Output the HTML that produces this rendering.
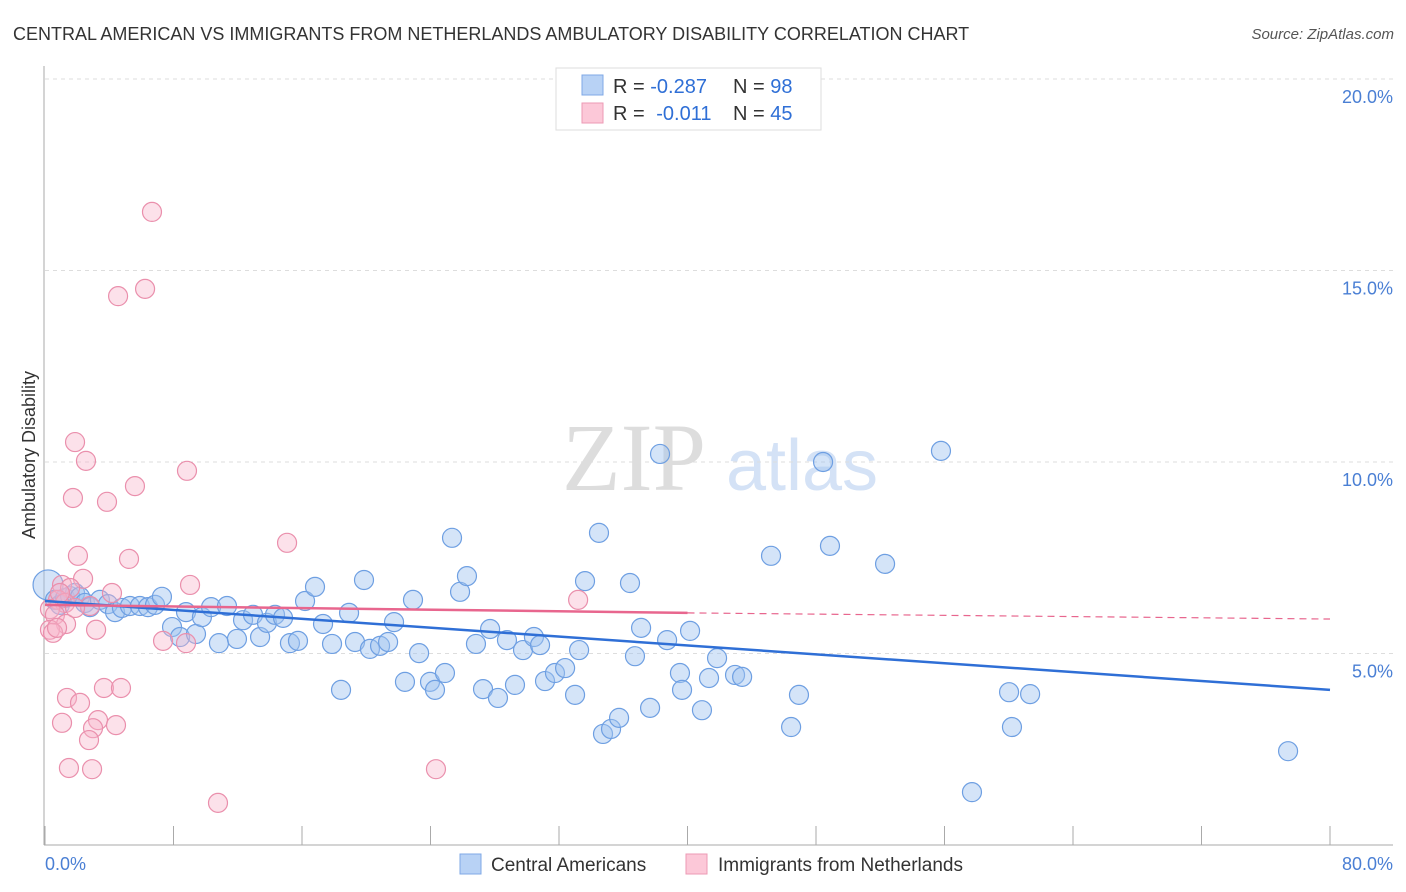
<!DOCTYPE html>
<html><head><meta charset="utf-8"><style>
body{margin:0;background:#fff;font-family:"Liberation Sans",sans-serif;}
#wrap{position:relative;width:1406px;height:892px;overflow:hidden;}
</style></head><body>
<div id="wrap">
<svg id="chart" width="1406" height="892">
<text x="13" y="40" font-size="18" fill="#333">CENTRAL AMERICAN VS IMMIGRANTS FROM NETHERLANDS AMBULATORY DISABILITY CORRELATION CHART</text>
<text x="1394" y="39" font-size="15" fill="#555" font-style="italic" text-anchor="end">Source: ZipAtlas.com</text>
<text x="634" y="490" font-size="96" fill="#ddd" font-family="Liberation Serif,serif" text-anchor="middle">ZIP</text>
<text x="802" y="490" font-size="72" fill="#d4e2f6" text-anchor="middle">atlas</text>
<g id="grid"></g>
<g id="axes"></g>
<g id="marks"></g>
<text transform="translate(35,455) rotate(-90)" font-size="18" fill="#333" text-anchor="middle">Ambulatory Disability</text>
<g>
<rect x="556" y="68" width="265" height="62" fill="#fff" stroke="#ddd"/>
<rect x="582" y="75" width="21" height="20" fill="#b8d2f5" stroke="#7fa8e6"/>
<rect x="582" y="103" width="21" height="20" fill="#fcc8d8" stroke="#ec9ab4"/>
<text x="613" y="93" font-size="20" fill="#333">R = <tspan fill="#2f6fd6">-0.287</tspan></text>
<text x="733" y="93" font-size="20" fill="#333">N = <tspan fill="#2f6fd6">98</tspan></text>
<text x="613" y="120" font-size="20" fill="#333">R = <tspan fill="#2f6fd6" dx="6">-0.011</tspan></text>
<text x="733" y="120" font-size="20" fill="#333">N = <tspan fill="#2f6fd6">45</tspan></text>
</g>
<g>
<rect x="460" y="854" width="21" height="20" fill="#b8d2f5" stroke="#7fa8e6"/>
<text x="491" y="871" font-size="19" fill="#333">Central Americans</text>
<rect x="686" y="854" width="21" height="20" fill="#fcc8d8" stroke="#ec9ab4"/>
<text x="718" y="871" font-size="19" fill="#333">Immigrants from Netherlands</text>
</g>
</svg>
</div>
<script>
const yTicks=[5,10,15,20];
const yTickLabels=["5.0%","10.0%","15.0%","20.0%"];
const xTicks=[0,8,16,24,32,40,48,56,64,72,80];
const blueX=[0.19,0.62,0.93,1.25,1.56,1.87,2.18,2.49,2.80,3.42,3.92,4.36,4.79,5.29,5.91,6.41,6.85,7.28,7.91,8.41,8.78,9.40,9.77,10.34,10.83,11.33,11.95,12.33,12.95,13.39,13.82,14.32,14.82,15.25,15.75,16.19,16.81,17.31,17.87,18.43,18.93,19.30,19.86,20.23,20.86,21.36,21.73,22.41,22.91,23.29,23.97,24.28,24.90,25.34,25.84,26.27,26.83,27.27,27.71,28.20,28.76,29.26,29.76,30.44,30.82,31.13,31.75,32.38,33.00,33.25,33.62,34.49,34.74,35.24,35.74,36.42,36.73,37.11,37.67,38.29,38.73,39.53,39.66,40.16,40.90,41.34,41.84,42.96,43.40,45.20,46.45,46.94,48.44,48.87,52.30,55.78,57.71,60.02,60.20,61.33,77.39];
const blueY=[6.79,6.40,6.27,6.45,6.50,6.58,6.48,6.32,6.21,6.40,6.29,6.08,6.19,6.24,6.24,6.21,6.27,6.48,5.69,5.43,6.08,5.51,5.95,6.21,5.27,6.24,5.38,5.87,6.01,5.43,5.80,6.01,5.93,5.27,5.33,6.37,6.74,5.77,5.25,4.05,6.06,5.30,6.92,5.12,5.20,5.30,5.82,4.26,6.40,5.01,4.26,4.05,4.49,8.02,6.61,7.02,5.25,4.07,5.64,3.84,5.35,4.18,5.09,5.43,5.22,4.28,4.49,4.62,3.92,5.09,6.89,8.15,2.90,3.03,3.32,6.84,4.93,5.67,3.58,10.21,5.35,4.49,4.05,5.59,3.52,4.36,4.88,4.44,4.39,7.55,3.08,3.92,10.00,7.81,7.34,10.29,1.38,3.99,3.08,3.94,2.45];
const pinkX=[6.66,4.55,6.23,1.87,2.55,1.74,8.84,5.60,3.86,15.07,2.05,5.23,2.37,1.06,1.56,4.17,9.03,0.81,1.25,2.80,0.31,0.62,1.31,3.18,0.31,0.50,0.75,7.35,8.78,33.19,1.37,2.18,3.67,4.73,1.06,3.30,2.99,2.74,4.42,1.49,2.93,24.34,10.77,0.93,1.87];
const pinkY=[16.53,14.33,14.52,10.52,10.03,9.06,9.77,9.37,8.96,7.89,7.55,7.47,6.95,6.79,6.71,6.58,6.79,6.40,6.32,6.24,6.16,6.01,5.77,5.62,5.62,5.54,5.67,5.33,5.27,6.40,3.84,3.71,4.10,4.10,3.19,3.26,3.05,2.74,3.13,2.01,1.98,1.98,1.10,6.58,6.19];
const blueTrend=[6.37,4.05];
const pinkTrend=[6.27,6.06,5.90];

const NS="http://www.w3.org/2000/svg";
const X0=45,X1=1330,Y0=845,PX=38.3;
const sx=v=>X0+(v/80)*(X1-X0);
const sy=v=>Y0-v*PX;
function mk(tag,attrs,parent){const e=document.createElementNS(NS,tag);for(const k in attrs)e.setAttribute(k,attrs[k]);parent.appendChild(e);return e;}
const grid=document.getElementById('grid'),axes=document.getElementById('axes'),marks=document.getElementById('marks');
yTicks.forEach((t,i)=>{
  const l=mk('line',{x1:X0,x2:1393,y1:sy(t),y2:sy(t),stroke:'#ddd','stroke-dasharray':'4,4'},grid);
  
  
  const tx=mk('text',{x:1393,y:sy(t)+24,'font-size':18,fill:'#4a7fd4','text-anchor':'end'},grid);
  tx.textContent=yTickLabels[i];
  
  
});
const ya=mk('line',{x1:X0-1,x2:X0-1,y1:66,y2:Y0,stroke:'#aaa'},axes);


const xa=mk('line',{x1:X0-1,x2:1393,y1:Y0,y2:Y0,stroke:'#aaa'},axes);


xTicks.forEach(t=>{
  const l=mk('line',{x1:sx(t),x2:sx(t),y1:Y0-19,y2:Y0,stroke:'#aaa'},axes);
  
  
});
const xl0=mk('text',{x:45,y:870,'font-size':18,fill:'#4a7fd4'},axes);xl0.textContent='0.0%';


const xl1=mk('text',{x:1393,y:870,'font-size':18,fill:'#4a7fd4','text-anchor':'end'},axes);xl1.textContent='80.0%';


blueX.forEach((x,i)=>{
  const c=mk('circle',{cx:sx(x),cy:sy(blueY[i]),r:i===0?15:9.5,fill:'rgba(160,195,240,0.45)',stroke:'#6e9fe2','stroke-width':1.2},marks);
  
  
});
pinkX.forEach((x,i)=>{
  const c=mk('circle',{cx:sx(x),cy:sy(pinkY[i]),r:9.5,fill:'rgba(248,180,202,0.4)',stroke:'#ea8fac','stroke-width':1.2},marks);
  
  
});
const bt=mk('line',{x1:sx(0),y1:sy(blueTrend[0]),x2:sx(80),y2:sy(blueTrend[1]),stroke:'#2f6fd6','stroke-width':2.5},marks);


const pt=mk('line',{x1:sx(0),y1:sy(pinkTrend[0]),x2:sx(40),y2:sy(pinkTrend[1]),stroke:'#e8668e','stroke-width':2.5},marks);


const pd=mk('line',{x1:sx(40),y1:sy(pinkTrend[1]),x2:sx(80),y2:sy(pinkTrend[2]),stroke:'#e8668e','stroke-width':1.2,'stroke-dasharray':'7,5'},marks);


</script>
</body></html>
